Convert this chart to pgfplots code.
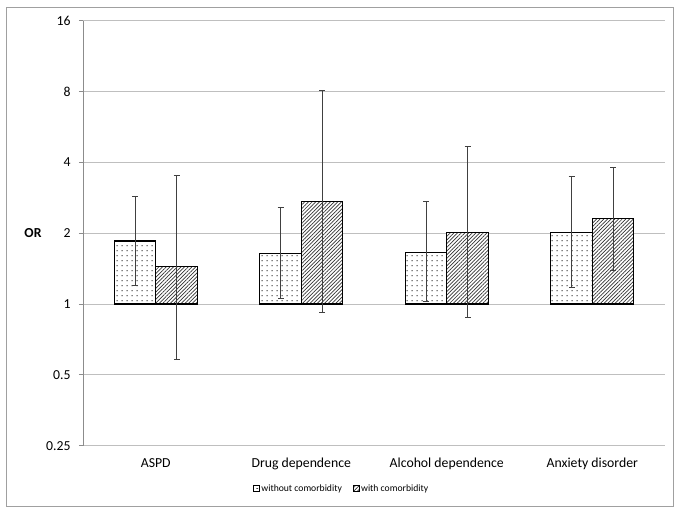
\documentclass[border=0pt]{standalone}
\usepackage{pgfplots}
\pgfplotsset{compat=1.18}
\usepackage{pgfplotstable}
\usepackage{fontspec}
\setmainfont{Carlito}
\usetikzlibrary{patterns.meta}
\pgfdeclarepattern{name=sparsedots, type=uncolored,
  bottom left={\pgfpoint{0bp}{0bp}}, top right={\pgfpoint{5bp}{4.7bp}},
  tile size={\pgfpoint{5bp}{4.7bp}},
  code={\pgfpathrectangle{\pgfpoint{1.5bp}{2bp}}{\pgfpoint{1.8bp}{0.8bp}}\pgfusepath{fill}}}
\definecolor{gridgray}{HTML}{BFBFBF}
\definecolor{axgray}{HTML}{8C8C8C}
\definecolor{errgray}{HTML}{404040}
\definecolor{framegray}{HTML}{A0A0A0}

\pgfplotstableread{
x y ep em
0 1.855 1.015 0.655
1 1.64 0.92 0.58
2 1.66 1.06 0.63
3 2.02 1.48 0.84
}\without
\pgfplotstableread{
x y ep em
0 1.44 2.08 0.857
1 2.73 5.35 1.81
2 2.02 2.63 1.14
3 2.31 1.51 0.92
}\withc

\begin{document}
\begin{tikzpicture}
\useasboundingbox (0,0) rectangle (681bp,514bp);
\draw[framegray, line width=0.9bp] (6.7bp,8bp) rectangle (673.5bp,507bp);
\begin{axis}[
  at={(83bp,68.3bp)}, anchor=south west,
  scale only axis, width=582bp, height=425bp,
  ymode=log, log basis y=2, log origin=0,
  ymin=0.25, ymax=16,
  ytick={0.25,0.5,1,2,4,8,16},
  yticklabels={0.25,0.5,1,2,4,8,16},
  xmin=-0.5, xmax=3.5,
  xtick={0,1,2,3},
  xticklabels={ASPD,Drug dependence,Alcohol dependence,Anxiety disorder},
  axis x line*=bottom, axis y line*=left,
  x axis line style={gridgray, line width=0.9bp, -},
  y axis line style={axgray, line width=0.9bp, -},
  ytick style={axgray, line width=0.9bp},
  tick align=outside,
  major tick length=4bp,
  xtick style={draw=none},
  ymajorgrids, grid style={gridgray, line width=0.9bp},
  /pgf/number format/assume math mode=true,
  ticklabel style={font=\fontsize{13.8}{15}\selectfont, black},
  yticklabel style={xshift=-5bp},
  xticklabel style={yshift=-5bp},
  ylabel={\textbf{OR}},
  ylabel style={rotate=-90, at={(axis description cs:0,0.5)}, anchor=center, xshift=-50bp, font=\fontsize{13.8}{15}\selectfont},
  ybar=0pt, bar width=41.5bp,
  legend columns=2,
  legend style={at={(axis description cs:0.444,-0.1012)}, anchor=center, draw=none, fill=none,
    font=\fontsize{9.7}{11}\selectfont, inner sep=0pt,
    nodes={inner sep=1.2bp},
    /tikz/every even column/.append style={column sep=10bp}},
  legend image code/.code={\draw[#1, line width=0.8bp] (0bp,-3bp) rectangle (6bp,3bp);},
  error bars/y dir=both, error bars/y explicit,
  error bars/error bar style={errgray, line width=1bp},
  error bars/error mark options={rotate=90, mark size=3bp, errgray, line width=1bp},
]
\addplot[draw=black, line width=1.3bp, fill=white, postaction={pattern=sparsedots, pattern color=black!75}]
  table[x=x, y=y, y error plus=ep, y error minus=em] {\without};
\addlegendentry{without comorbidity}
\addplot[draw=black, line width=1.3bp, fill=white, postaction={pattern={Lines[angle=45,distance=2.6bp,line width=0.7bp]}, pattern color=black!80}]
  table[x=x, y=y, y error plus=ep, y error minus=em] {\withc};
\addlegendentry{with comorbidity}
\end{axis}
\end{tikzpicture}
\end{document}
